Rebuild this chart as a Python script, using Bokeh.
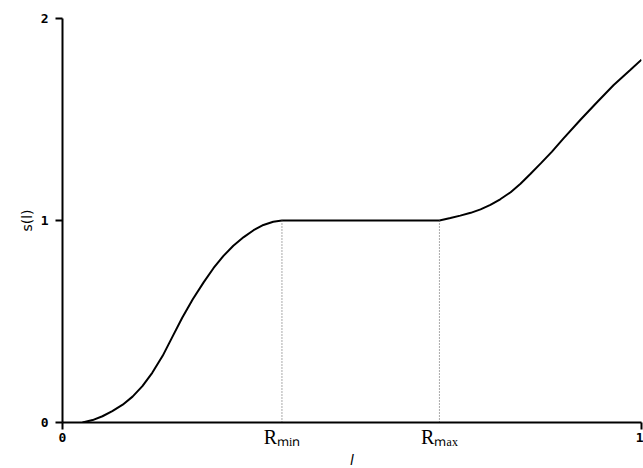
from bokeh.plotting import figure
from bokeh.models import Range1d, FixedTicker, LinearAxis
from bokeh.embed import file_html
from bokeh.resources import INLINE

# data
l_vals = [0.0345, 0.052, 0.069, 0.086, 0.104, 0.121, 0.138, 0.155, 0.173, 0.190,
          0.207, 0.225, 0.244, 0.261, 0.278, 0.295, 0.313, 0.330, 0.347, 0.364,
          0.379, 0.651, 0.670, 0.687, 0.705, 0.722, 0.739, 0.756, 0.774, 0.791,
          0.808, 0.826, 0.845, 0.865, 0.895, 0.924, 0.952, 0.981, 1.0]
s_vals = [0.0, 0.012, 0.031, 0.056, 0.088, 0.128, 0.18, 0.246, 0.33, 0.425,
          0.52, 0.61, 0.695, 0.765, 0.825, 0.875, 0.918, 0.952, 0.978, 0.994,
          1.0, 1.0, 1.012, 1.024, 1.038, 1.055, 1.077, 1.105, 1.14, 1.182,
          1.23, 1.283, 1.34, 1.405, 1.5, 1.588, 1.671, 1.746, 1.796]
r_min = 0.379
r_max = 0.651
r_labels = {r_min: "R\u2098\u1d62\u2099", r_max: "R\u2098\u2090\u2093"}
x_ticks = [0, 1]
y_ticks = [0, 1, 2]

p = figure(frame_width=579, frame_height=404, output_backend="svg", toolbar_location=None,
           x_range=Range1d(0, 1), y_range=Range1d(0, 2),
           min_border_left=62, min_border_right=2, min_border_top=18, min_border_bottom=46)
p.outline_line_color = None
p.grid.visible = False

for ax, ticks in ((p.xaxis[0], x_ticks), (p.yaxis[0], y_ticks)):
    ax.ticker = FixedTicker(ticks=ticks)
    ax.axis_line_width = 2
    ax.axis_line_color = "black"
    ax.major_tick_line_width = 2
    ax.major_tick_line_color = "black"
    ax.major_tick_out = 7
    ax.major_tick_in = 0
    ax.minor_tick_line_color = None
    ax.major_label_text_font = "DejaVu Sans Mono"
    ax.major_label_text_font_style = "bold"
    ax.major_label_text_font_size = "13px"
    ax.major_label_text_color = "black"
    ax.axis_label_text_color = "black"

p.yaxis[0].axis_label = "s(l)"
p.yaxis[0].axis_label_text_font = "DejaVu Sans"
p.yaxis[0].axis_label_text_font_style = "normal"
p.yaxis[0].axis_label_text_font_size = "14px"
p.yaxis[0].axis_label_standoff = 3
p.yaxis[0].major_label_standoff = 7
p.xaxis[0].major_label_standoff = 3

# second x axis carrying the R_min / R_max labels and the axis title
r_axis = LinearAxis(ticker=FixedTicker(ticks=[r_min, r_max]),
                    major_label_overrides=r_labels,
                    axis_line_color=None, major_tick_line_color=None,
                    minor_tick_line_color=None, major_tick_out=0, major_tick_in=0,
                    major_label_standoff=-19,
                    major_label_text_font="Liberation Serif",
                    major_label_text_font_size="20px",
                    major_label_text_color="black",
                    axis_label="l", axis_label_text_font="DejaVu Sans",
                    axis_label_text_font_style="italic",
                    axis_label_text_font_size="14px",
                    axis_label_text_color="black",
                    axis_label_standoff=1)
p.add_layout(r_axis, "below")

p.line(l_vals, s_vals, line_color="black", line_width=2)
p.segment(x0=[r_min, r_max], y0=[0, 0], x1=[r_min, r_max], y1=[1, 1],
          line_color="#555555", line_width=1, line_dash="1 2")

open("out.html", "w").write(file_html(p, INLINE))
